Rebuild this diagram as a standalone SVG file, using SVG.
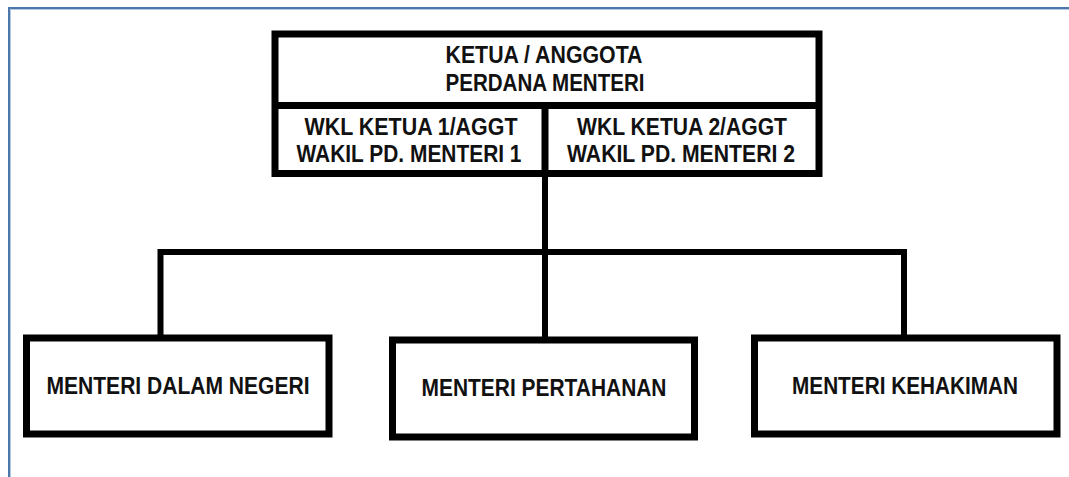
<svg xmlns="http://www.w3.org/2000/svg" width="1069" height="477" viewBox="0 0 1069 477">
<style>
.box{fill:#ffffff;stroke:#000000;stroke-width:7;stroke-linejoin:miter}
.div{stroke:#000000;stroke-width:7;fill:none}
.conn{stroke:#000000;stroke-width:6;fill:none;stroke-linejoin:miter;stroke-linecap:butt}
.t{font-family:"Liberation Sans",Arial,sans-serif;font-weight:bold;font-size:23.5px;fill:#111111;text-anchor:middle}
</style>
<rect x="0" y="0" width="1069" height="477" fill="#ffffff"/>
<g id="frame">
<path d="M10.5,477 V9.5 H1069" fill="none" stroke="#b4c8e0" stroke-width="1"/>
<path d="M9,477 V8 H1069" fill="none" stroke="#4a78ab" stroke-width="2"/>
</g>
<g id="connectors">
<path class="conn" d="M545,173 V341"/>
<path class="conn" d="M160.5,338 V252 H904 V338"/>
</g>
<g id="top-box">
<rect class="box" x="275" y="34" width="544" height="139.5"/>
<line class="div" x1="275" y1="105.5" x2="819" y2="105.5"/>
<line class="div" x1="545" y1="105.5" x2="545" y2="173.5"/>
<g id="ketua">
<text class="t" x="544" y="63" textLength="197" lengthAdjust="spacingAndGlyphs">KETUA / ANGGOTA</text>
<text class="t" x="545" y="91" textLength="199" lengthAdjust="spacingAndGlyphs">PERDANA MENTERI</text>
</g>
<g id="wakil1">
<text class="t" x="411" y="134.5" textLength="213" lengthAdjust="spacingAndGlyphs">WKL KETUA 1/AGGT</text>
<text class="t" x="409" y="162" textLength="225" lengthAdjust="spacingAndGlyphs">WAKIL PD. MENTERI 1</text>
</g>
<g id="wakil2">
<text class="t" x="682" y="134.5" textLength="210" lengthAdjust="spacingAndGlyphs">WKL KETUA 2/AGGT</text>
<text class="t" x="681" y="162" textLength="228" lengthAdjust="spacingAndGlyphs">WAKIL PD. MENTERI 2</text>
</g>
</g>
<g id="dalam-negeri">
<rect class="box" x="26.5" y="338" width="302.5" height="96"/>
<text class="t" x="178" y="393.5" textLength="263" lengthAdjust="spacingAndGlyphs">MENTERI DALAM NEGERI</text>
</g>
<g id="pertahanan">
<rect class="box" x="392.5" y="340" width="302" height="97"/>
<text class="t" x="544" y="395.5" textLength="245" lengthAdjust="spacingAndGlyphs">MENTERI PERTAHANAN</text>
</g>
<g id="kehakiman">
<rect class="box" x="754.5" y="338" width="302.5" height="96"/>
<text class="t" x="905" y="393.5" textLength="226" lengthAdjust="spacingAndGlyphs">MENTERI KEHAKIMAN</text>
</g>
</svg>
